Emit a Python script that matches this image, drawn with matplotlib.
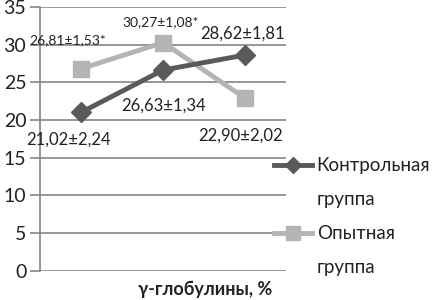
import matplotlib
matplotlib.use("Agg")
import matplotlib.pyplot as plt
from matplotlib.lines import Line2D

categories = ["1", "2", "3"]
control = [21.02, 26.63, 28.62]
experimental = [26.81, 30.27, 22.90]
control_labels = ["21,02±2,24", "26,63±1,34", "28,62±1,81"]
experimental_labels = ["26,81±1,53*", "30,27±1,08*", "22,90±2,02"]
series_names = [("Контрольная", "группа"), ("Опытная", "группа")]
xlabel = "γ-глобулины, %"

DARK = "#5a5a5a"
LIGHT = "#b4b4b4"
GRID = "#858585"
TEXT = "#222222"

plt.rcParams["font.family"] = ["Lato", "DejaVu Sans"]

fig = plt.figure(figsize=(4.32, 3.0), dpi=100)
ax = fig.add_axes([0.093, 0.097, 0.569, 0.88])

x = range(len(categories))
l1, = ax.plot(x, control, color=DARK, lw=3.5, marker="D", ms=10, zorder=3)
l2, = ax.plot(x, experimental, color=LIGHT, lw=3.5, marker="s", ms=12, zorder=2)

ax.set_xlim(-0.5, 2.5)
ax.set_ylim(0, 35)
ax.set_yticks(range(0, 36, 5))
ax.set_xticks([])
ax.grid(axis="y", color=GRID, lw=1.2)
ax.set_axisbelow(True)
for s in ("top", "right", "bottom"):
    ax.spines[s].set_visible(False)
ax.spines["left"].set_color(GRID)
ax.spines["left"].set_linewidth(1.2)
ax.tick_params(axis="y", length=7, color=GRID, width=1.2, labelsize=14, pad=3,
               labelcolor=TEXT)

# label centres (x in category units, y in data units)
ctrl_pos = [(-0.15, 17.4), (1.0, 21.9), (1.97, 31.4)]
exp_pos = [(-0.16, 30.6), (0.97, 33.0), (1.95, 17.9)]
for (px, py), lab in zip(ctrl_pos, control_labels):
    ax.text(px, py, lab, ha="center", va="center", fontsize=12, color=TEXT)
for (px, py), lab in zip(exp_pos, experimental_labels):
    fs = 10 if lab.endswith("*") else 12
    ax.text(px, py, lab, ha="center", va="center", fontsize=fs, color=TEXT)

# legend: marker row aligned with the first line of each two-line name
blank = Line2D([], [], color="none")
handles = [l1, blank, l2, blank]
texts = [series_names[0][0], series_names[0][1], series_names[1][0], series_names[1][1]]
leg = fig.legend(handles, texts, loc="upper left", bbox_to_anchor=(0.618, 0.50),
                 frameon=False, fontsize=13.5, handlelength=2.0, handletextpad=0.25,
                 labelspacing=0.9, borderaxespad=0, markerscale=0.85)
for t in leg.get_texts():
    t.set_color(TEXT)

fig.text(0.475, 0.035, xlabel, ha="center", va="center", fontsize=13,
         fontweight="bold", color=TEXT)

fig.savefig("out.png", dpi=100)
